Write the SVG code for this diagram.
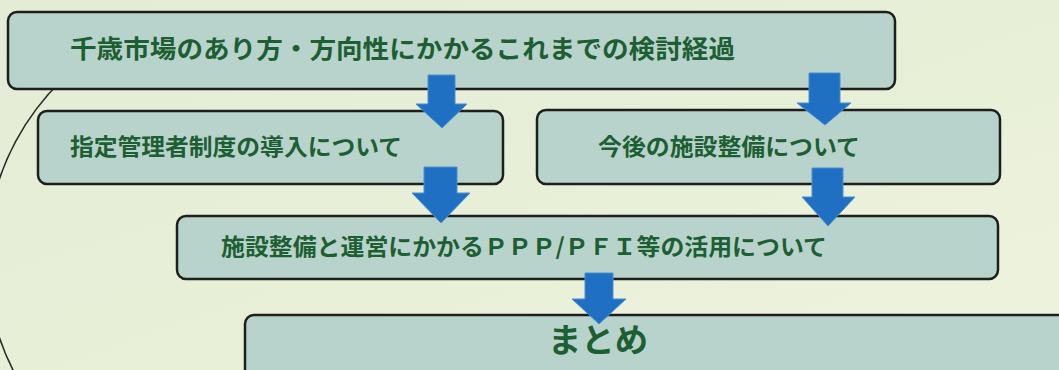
<svg xmlns="http://www.w3.org/2000/svg" width="1059" height="370" viewBox="0 0 1059 370">
<defs>
<linearGradient id="bg" x1="0" y1="0" x2="1" y2="1">
<stop offset="0" stop-color="#e4ecd6"/>
<stop offset="0.6" stop-color="#e9f0d8"/>
<stop offset="1" stop-color="#eff3de"/>
</linearGradient>
<style>
.box{fill:#b8d3cb;stroke:#1c1f1c;stroke-width:2.5}
.t{font-family:"Noto Sans CJK JP","Noto Sans",sans-serif;font-weight:bold;fill:#1d5f33}
.arr{fill:#1f70c2;stroke:#4a8fd0;stroke-width:1}
</style>
</defs>
<rect width="1059" height="370" fill="url(#bg)"/>
<path d="M 62 80 A 248 248 0 0 0 14 372" fill="none" stroke="#2a2e28" stroke-width="1.6"/>
<g id="n1"><rect class="box" x="8" y="12" width="887" height="77" rx="9"/>
<text class="t" x="70" y="58" font-size="25.5" textLength="665" lengthAdjust="spacingAndGlyphs">千歳市場のあり方・方向性にかかるこれまでの検討経過</text></g>
<g id="n2"><rect class="box" x="38" y="111" width="465" height="73" rx="9"/>
<text class="t" x="70" y="155" font-size="23" textLength="332" lengthAdjust="spacingAndGlyphs">指定管理者制度の導入について</text></g>
<g id="n3"><rect class="box" x="537" y="110" width="463" height="74" rx="9"/>
<text class="t" x="598" y="155" font-size="23" textLength="262" lengthAdjust="spacingAndGlyphs">今後の施設整備について</text></g>
<g id="n4"><rect class="box" x="177" y="216" width="821" height="63" rx="9"/>
<text class="t" x="221" y="255" font-size="23" textLength="606" lengthAdjust="spacingAndGlyphs">施設整備と運営にかかるＰＰＰ/ＰＦＩ等の活用について</text></g>
<g id="n5"><rect class="box" x="245" y="315" width="830" height="80" rx="9"/>
<text class="t" x="548" y="352" font-size="33" textLength="100" lengthAdjust="spacingAndGlyphs">まとめ</text></g>
<g id="connectors">
<path class="arr" d="M428 75 H455 V104 H467 L442 128 L416 104 H428 Z"/>
<path class="arr" d="M809 73 H840 V103 H851 L825 125 L797 103 H809 Z"/>
<path class="arr" d="M424 167 H457 V193 H470 L441 223 L412 193 H424 Z"/>
<path class="arr" d="M812 168 H843 V197 H855 L828 226 L802 197 H812 Z"/>
<path class="arr" d="M585 273 H613 V299 H626 L599 324 L572 299 H585 Z"/>
</g>
</svg>
